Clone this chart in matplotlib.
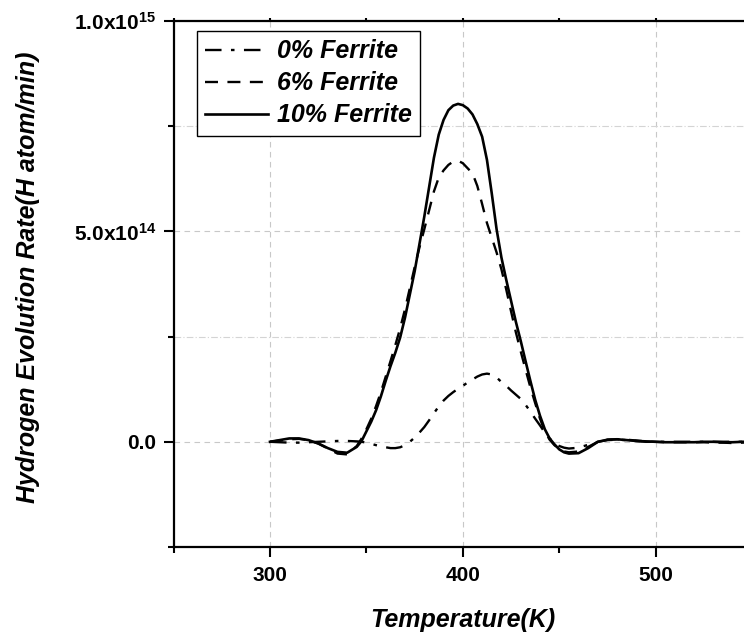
import matplotlib
matplotlib.use("Agg")
import matplotlib.pyplot as plt
from matplotlib.ticker import MultipleLocator, FuncFormatter

plt.rcParams['font.family'] = ['Liberation Sans', 'DejaVu Sans']
plt.rcParams['mathtext.fontset'] = 'custom'
plt.rcParams['mathtext.rm'] = 'Liberation Sans:bold'
plt.rcParams['mathtext.bf'] = 'Liberation Sans:bold'
plt.rcParams['mathtext.it'] = 'Liberation Sans:bold:italic'

# temperature (K): 5 K steps on the baseline, 2.5 K steps through the peak
temperature = (list(range(300, 345, 5))
               + [345 + 2.5 * i for i in range(45)]
               + list(range(460, 555, 5)))

# hydrogen evolution rate, units of 1e14 H atom/min
ferrite_0 = [0.00, -0.01, -0.02, -0.02, -0.01, 0.00, 0.01, 0.02, 0.02,
             0.01, 0.00, -0.02, -0.05, -0.08, -0.11, -0.13, -0.15, -0.15, -0.13,
             -0.08, 0.00, 0.10, 0.22, 0.35, 0.51, 0.68, 0.84, 0.98, 1.09,
             1.18, 1.26, 1.33, 1.41, 1.48, 1.55, 1.60, 1.62, 1.60, 1.53,
             1.42, 1.33, 1.22, 1.12, 1.02, 0.88, 0.72, 0.55, 0.39, 0.22,
             0.08, -0.03, -0.10, -0.14, -0.16,
             -0.14, -0.07, 0.00, 0.04, 0.05, 0.04, 0.02, 0.00, 0.00, 0.00,
             0.00, 0.00, 0.00, 0.00, 0.00, 0.00, 0.00, 0.00, 0.00]
ferrite_6 = [0.00, 0.03, 0.06, 0.07, 0.04, -0.04, -0.16, -0.28, -0.30,
             -0.10, 0.08, 0.30, 0.55, 0.85, 1.18, 1.55, 1.92, 2.30, 2.70,
             3.15, 3.65, 4.15, 4.62, 5.05, 5.50, 5.95, 6.28, 6.45, 6.58,
             6.66, 6.68, 6.62, 6.50, 6.38, 6.08, 5.65, 5.20, 4.85, 4.50,
             4.10, 3.62, 3.10, 2.60, 2.15, 1.72, 1.30, 0.92, 0.55, 0.25,
             0.05, -0.08, -0.17, -0.23, -0.25,
             -0.23, -0.12, 0.00, 0.05, 0.06, 0.05, 0.03, 0.01, 0.00, -0.01,
             -0.01, -0.01, -0.01, -0.01, -0.02, -0.02, -0.03, -0.02, -0.01]
ferrite_10 = [0.00, 0.04, 0.08, 0.08, 0.04, -0.04, -0.15, -0.24, -0.26,
              -0.12, 0.02, 0.25, 0.48, 0.75, 1.08, 1.45, 1.80, 2.12, 2.48,
              2.95, 3.50, 4.05, 4.70, 5.35, 6.05, 6.75, 7.30, 7.65, 7.88,
              7.99, 8.03, 8.00, 7.92, 7.78, 7.55, 7.25, 6.70, 5.90, 5.05,
              4.38, 3.85, 3.35, 2.85, 2.40, 1.92, 1.45, 1.00, 0.62, 0.30,
              0.08, -0.06, -0.18, -0.25, -0.28,
              -0.27, -0.15, 0.00, 0.05, 0.06, 0.04, 0.02, 0.01, 0.00, -0.01,
              -0.01, -0.01, -0.01, 0.00, 0.00, -0.01, -0.01, 0.00, 0.00]

labels = ['0% Ferrite', '6% Ferrite', '10% Ferrite']

fig = plt.figure(figsize=(7.44, 6.37), dpi=100)
ax = fig.add_axes([173.6 / 744, 90 / 637, 578.5 / 744, 526 / 637])

scale = 1e14
ax.plot(temperature, [v * scale for v in ferrite_0], color='black', lw=1.7,
        dashes=(7, 4, 1.5, 4), label=labels[0])
ax.plot(temperature, [v * scale for v in ferrite_6], color='black', lw=1.7,
        dashes=(5.5, 4), label=labels[1])
ax.plot(temperature, [v * scale for v in ferrite_10], color='black', lw=1.9,
        label=labels[2])

ax.set_xlim(250, 550)
ax.set_ylim(-2.5e14, 1.0e15)
ax.xaxis.set_major_locator(MultipleLocator(100))
ax.xaxis.set_minor_locator(MultipleLocator(50))
ax.yaxis.set_major_locator(MultipleLocator(5e14))
ax.yaxis.set_minor_locator(MultipleLocator(2.5e14))


def yfmt(v, pos):
    if abs(v) < 1:
        return '0.0'
    exp = 0
    m = v
    while abs(m) >= 10:
        m /= 10
        exp += 1
    return r'$\mathrm{%.1fx10^{%d}}$' % (m, exp)


ax.yaxis.set_major_formatter(FuncFormatter(yfmt))

ax.grid(True, which='major', color='#c8c8c8', lw=0.8, ls=(0, (5, 4)))
ax.grid(True, which='minor', axis='y', color='#d4d4d4', lw=0.8, ls=(0, (6, 2, 1, 2)))
ax.set_axisbelow(True)

for s in ax.spines.values():
    s.set_linewidth(1.6)

ax.tick_params(which='major', direction='out', length=7.5, width=1.5, labelsize=15, pad=5)
ax.tick_params(which='minor', direction='out', length=4.5, width=1.5)
ax.tick_params(axis='x', which='major', pad=6)
ax.tick_params(top=True, which='both', labeltop=False)
for t in ax.xaxis.get_ticklines(minor=False)[1::2] + ax.xaxis.get_ticklines(minor=True)[1::2]:
    t.set_markersize(2)
for lab in ax.get_xticklabels() + ax.get_yticklabels():
    lab.set_fontweight('bold')

ax.set_xlabel('Temperature(K)', fontsize=18, fontweight='bold', fontstyle='italic')
ax.set_ylabel('Hydrogen Evolution Rate(H atom/min)', fontsize=18, fontweight='bold',
              fontstyle='italic')
ax.xaxis.set_label_coords(0.5, -0.116)
ax.yaxis.set_label_coords(-0.231, 0.513)

leg = ax.legend(loc='upper left', bbox_to_anchor=(0.040, 0.9816), borderaxespad=0,
                prop={'size': 18, 'weight': 'bold', 'style': 'italic'},
                handlelength=2.5, handletextpad=0.35, labelspacing=0.32, borderpad=0.35,
                fancybox=False, framealpha=1, edgecolor='black')
leg.get_frame().set_linewidth(1.0)

plt.savefig('out.png', dpi=100)
plt.close()
